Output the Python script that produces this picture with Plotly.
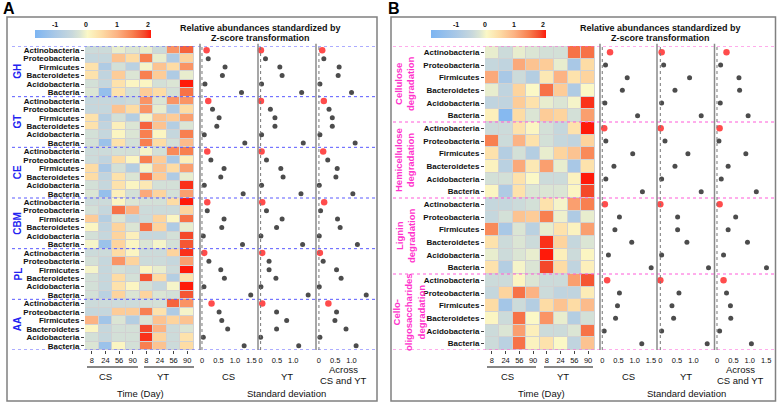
import plotly.graph_objects as go

W, H = 778, 403
def fx(p): return p / W
def fy(p): return 1 - p / H

FONT = "Liberation Sans, Arial, sans-serif"

# ---------------- data ----------------
taxa = ["Actinobacteria", "Proteobacteria", "Firmicutes", "Bacteroidetes", "Acidobacteria", "Bacteria"]
time_labels = ["8", "24", "56", "90", "8", "24", "56", "90"]
site_labels = ["CS", "YT"]
groups_A = ["GH", "GT", "CE", "CBM", "PL", "AA"]
groups_B = ["Cellulose<br>degradation", "Hemicellulose<br>degradation", "Lignin<br>degradation",
            "Cello-<br>oligosaccharides<br>degradation"]

# z-scores (rows = taxa, cols = CS 8,24,56,90, YT 8,24,56,90)
heat_GH = [[-0.4, -0.4, -0.1, -0.2, -0.1, -0.4, 1.3, 1.7],
           [-0.5, -0.5, 0.8, 0.5, 1.5, -0.1, -0.9, 0.6],
           [0.4, -0.9, -0.3, -0.7, 0.0, 0.8, 0.5, 1.3],
           [0.4, -0.6, 0.7, -0.2, 1.5, 0.7, -0.9, -0.1],
           [-0.3, -0.5, 0.4, 0.1, 0.1, -0.3, -0.2, 2.2],
           [-0.2, -1.3, 0.4, -0.3, 0.7, 0.5, -0.3, 1.6]]
heat_GT = [[-0.5, -0.5, -0.5, -0.4, 1.3, -0.2, 1.3, 1.3],
           [-0.5, -0.5, 0.8, 0.5, 1.3, -0.1, -0.9, 0.5],
           [0.4, -0.8, -0.3, -0.8, 0.0, 0.8, 0.7, 1.2],
           [0.4, -0.6, 0.2, -0.2, 1.7, 0.8, -0.8, -0.2],
           [-0.3, -0.5, 0.1, -0.2, 1.5, 0.1, -0.5, 1.5],
           [-0.3, -1.2, 0.4, -0.3, 1.5, 0.5, -0.3, 0.9]]
heat_CE = [[-0.4, -0.4, -0.3, -0.3, 0.0, -0.3, 1.4, 1.5],
           [-0.4, -0.6, 0.5, 0.1, 1.5, 0.7, -1.0, 0.2],
           [0.5, -1.0, -0.3, -0.8, 0.0, 0.8, 0.5, 1.2],
           [0.5, -0.6, 0.4, -0.2, 1.6, 0.7, -0.9, -0.1],
           [-0.3, -0.5, 0.4, 0.1, 0.3, -0.3, -0.3, 2.0],
           [-0.2, -1.3, 0.2, -0.3, 1.1, 0.6, -0.3, 1.2]]
heat_CBM = [[-0.4, -0.4, 0.1, -0.2, -0.3, -0.3, 0.5, 2.4],
            [-0.3, -0.5, 1.6, 1.0, -0.4, -0.4, -0.4, 0.6],
            [0.7, -0.8, -0.2, -0.6, -0.4, 0.6, 0.1, 1.6],
            [0.1, -0.6, 0.6, -0.2, 1.6, 0.6, -0.9, -0.1],
            [-0.3, -0.5, 0.6, 0.2, -0.5, -0.5, -0.3, 1.9],
            [0.0, -1.2, 0.6, 0.1, -0.2, 0.0, -0.3, 1.8]]
heat_PL = [[-0.4, -0.4, 0.5, 0.1, -0.4, -0.4, 0.6, 2.0],
           [-0.3, -0.5, 1.3, 0.6, -0.4, -0.4, -0.5, 1.2],
           [0.0, -0.5, -0.3, -0.4, 0.1, -0.1, -0.4, 2.4],
           [-0.3, -0.5, 0.5, -0.3, 1.8, 0.5, -0.8, 0.4],
           [-0.3, -0.5, 0.4, 0.1, -0.3, -0.5, 0.0, 2.1],
           [-0.3, -0.7, 0.6, -0.2, 0.6, -0.2, -0.3, 1.8]]
heat_AA = [[-0.4, -0.4, -0.4, -0.4, -0.3, -0.3, 1.7, 1.3],
           [-0.5, -0.5, 0.7, 0.7, 1.5, 0.4, -0.9, 0.0],
           [1.0, -1.1, -0.2, -0.8, -0.2, 0.8, 0.6, 0.8],
           [0.1, -0.5, -0.3, -0.3, 1.9, 1.0, -0.4, -0.2],
           [-0.3, -0.5, -0.3, -0.3, 2.0, 0.6, -0.4, 0.4],
           [-0.2, -1.2, 0.1, -0.3, 1.5, 0.8, -0.4, 0.5]]

heat_cellulose = [[-0.1, -0.4, -0.1, -0.2, -0.3, -0.3, 1.6, 1.6],
                  [-0.5, -0.6, 1.1, 0.8, 0.7, -0.1, -1.0, 0.5],
                  [1.1, -1.0, -0.4, -0.8, 0.3, 1.0, 0.4, 0.6],
                  [-0.1, -0.6, 0.6, 0.05, 1.6, 0.7, -0.9, 0.05],
                  [-0.6, -0.6, 0.7, 0.4, -0.1, -0.2, 0.0, 2.0],
                  [0.2, -1.7, 0.5, -0.2, 0.7, 0.6, -0.3, 1.2]]
heat_hemicellulose = [[-0.4, -0.4, 0.4, 0.1, -0.3, -0.5, 0.4, 2.1],
                      [1.5, -0.4, 1.0, 0.4, -0.3, -0.5, -0.6, 0.6],
                      [0.4, -0.8, -0.3, -0.8, -0.1, 0.6, 0.8, 1.4],
                      [0.15, -0.7, 1.1, 0.3, 1.2, -0.1, -1.0, 0.4],
                      [-0.3, -0.3, 0.4, 0.05, -0.4, -0.4, 0.15, 2.2],
                      [0.1, -0.9, 0.4, -0.2, -0.2, -0.2, 0.1, 1.9]]
heat_lignin = [[-0.5, -0.5, -0.4, -0.3, 0.4, 0.0, 1.2, 1.5],
               [-0.5, -0.3, 0.8, 0.7, 1.5, -0.05, -0.9, -0.1],
               [1.4, -1.0, -0.2, -0.7, -0.1, 0.4, 0.15, 1.2],
               [0.4, -0.4, -0.2, -0.4, 2.0, 0.6, -0.5, -0.2],
               [-0.1, -0.4, -0.2, -0.1, 2.5, 0.2, -0.4, 0.1],
               [0.4, -0.8, 0.0, -0.2, 1.9, 0.5, -0.6, 0.2]]
heat_cello = [[-0.4, -0.4, 0.1, -0.2, -0.4, -0.4, 1.2, 1.8],
              [-0.5, 0.6, 1.6, 1.0, -0.4, -0.6, -0.6, 0.25],
              [0.5, -1.1, -0.4, -0.8, 0.5, 0.8, 0.5, 0.9],
              [0.1, -0.4, 1.6, 0.05, 1.3, -0.1, -0.8, -0.3],
              [-0.4, -0.2, 1.2, 0.2, -0.4, -0.4, -0.2, 1.6],
              [-0.4, -0.7, 1.6, 0.15, 0.4, 0.05, -0.6, 0.8]]

# standard deviations (rows in the same order as the heatmaps)
sd_A_CS = [0.14, 0.19, 0.70, 0.62, 0.09, 1.20,
           0.19, 0.32, 0.52, 0.45, 0.07, 1.30,
           0.16, 0.27, 0.67, 0.57, 0.07, 1.25,
           0.16, 0.16, 0.67, 0.60, 0.04, 1.23,
           0.07, 0.21, 0.57, 0.68, 0.06, 1.48,
           0.29, 0.52, 0.60, 0.78, 0.04, 1.28]
sd_A_YT = [0.01, 0.15, 0.59, 0.66, 0.03, 1.26,
           0.01, 0.30, 0.44, 0.44, 0.03, 1.31,
           0.03, 0.18, 0.62, 0.69, 0.03, 1.24,
           0.05, 0.18, 0.66, 0.49, 0.01, 1.29,
           0.05, 0.26, 0.26, 0.47, 0.01, 1.46,
           0.05, 0.49, 0.80, 0.49, 0.00, 1.17]
sd_A_all = [0.10, 0.15, 0.62, 0.59, 0.03, 1.00,
            0.15, 0.31, 0.41, 0.41, 0.03, 1.11,
            0.13, 0.27, 0.56, 0.52, 0.01, 1.04,
            0.16, 0.05, 0.57, 0.65, 0.01, 1.18,
            0.03, 0.13, 0.54, 0.68, 0.01, 1.45,
            0.29, 0.54, 0.49, 0.83, 0.03, 1.14]
sd_B_CS = [0.24, 0.10, 0.77, 0.62, 0.08, 1.09,
           0.06, 0.11, 0.94, 0.36, 0.11, 1.24,
           0.08, 0.53, 0.39, 0.91, 0.19, 1.51,
           0.15, 0.53, 0.47, 0.41, 0.06, 1.22]
sd_B_YT = [0.04, 0.10, 0.88, 0.44, 0.04, 1.23,
           0.01, 0.14, 0.83, 0.44, 0.04, 1.23,
           0.00, 0.52, 0.52, 0.80, 0.04, 1.45,
           0.00, 0.56, 0.35, 0.40, 0.04, 1.41]
sd_B_all = [0.29, 0.11, 0.67, 0.69, 0.10, 0.95,
            0.08, 0.06, 0.88, 0.34, 0.13, 1.20,
            0.08, 0.57, 0.34, 0.93, 0.20, 1.51,
            0.20, 0.29, 0.41, 0.42, 0.08, 1.05]

sd_ticks_A = [[0, 0.5, 1.0, 1.5], [0, 0.5, 1.0], [0, 0.5, 1.0]]
sd_ticks_B = [[0, 0.5, 1.0, 1.5], [0, 0.5, 1.0], [0, 0.5, 1.0, 1.5]]
cbar_ticks = [-1, 0, 1, 2]
zrange_A = (-1.65, 2.1)
zrange_B = (-1.87, 2.1)

# ---------------- styling ----------------
color_stops = [(None, "#7db5f2"), (-1.0, "#a9c8e6"), (-0.45, "#c8d8dc"), (-0.2, "#dbe5d4"),
               (0.05, "#fbf8c6"), (0.5, "#fddca5"), (1.0, "#fcb384"), (1.5, "#f88050"),
               (1.9, "#f4482a"), (2.1, "#ff1a0a")]

def make_scale(zmin, zmax):
    out = []
    for v, c in color_stops:
        v = zmin if v is None else v
        out.append([(v - zmin) / (zmax - zmin), c])
    return out

heat_A = heat_GH + heat_GT + heat_CE + heat_CBM + heat_PL + heat_AA
heat_B = heat_cellulose + heat_hemicellulose + heat_lignin + heat_cello
nA, nB = len(heat_A), len(heat_B)

fig = go.Figure()
fig.add_trace(go.Heatmap(z=heat_A, x=list(range(8)), y=list(range(nA)), coloraxis="coloraxis",
                         xgap=1, ygap=1, xaxis="x", yaxis="y"))
fig.add_trace(go.Heatmap(z=heat_B, x=list(range(8)), y=list(range(nB)), coloraxis="coloraxis2",
                         xgap=1, ygap=1, xaxis="x5", yaxis="y2"))

def dots(vals, xa, ya):
    cols = ["#ff0000" if taxa[i % 6] == "Actinobacteria" else "#000000" for i in range(len(vals))]
    sizes = [6.5 if taxa[i % 6] == "Actinobacteria" else 5 for i in range(len(vals))]
    return go.Scatter(x=vals, y=list(range(len(vals))), mode="markers", xaxis=xa, yaxis=ya,
                      marker=dict(color=cols, size=sizes, line=dict(width=0)), cliponaxis=False,
                      showlegend=False)

for vals, xa in [(sd_A_CS, "x2"), (sd_A_YT, "x3"), (sd_A_all, "x4")]:
    fig.add_trace(dots(vals, xa, "y"))
for vals, xa in [(sd_B_CS, "x6"), (sd_B_YT, "x7"), (sd_B_all, "x8")]:
    fig.add_trace(dots(vals, xa, "y2"))

def heat_x(dom, anchor):
    return dict(domain=[fx(dom[0]), fx(dom[1])], anchor=anchor, range=[-0.5, 7.5],
                tickvals=list(range(8)), ticktext=time_labels, ticks="outside", ticklen=3,
                tickcolor="#444", tickfont=dict(size=7.5, color="#111"), showgrid=False,
                zeroline=False, showline=False)

def heat_y(n, anchor):
    return dict(domain=[fy(350), fy(46)], anchor=anchor, range=[n - 0.5, -0.5],
                tickvals=list(range(n)), ticktext=taxa * (n // 6), ticks="outside", ticklen=3,
                tickcolor="#444", tickfont=dict(size=8, color="#111", weight="bold"),
                showgrid=False, zeroline=False, showline=False)

def dot_x(dom, rng, ticks, anchor):
    return dict(domain=[fx(dom[0]), fx(dom[1])], anchor=anchor, range=rng, tickvals=ticks,
                ticktext=["0" if t == 0 else f"{t:.1f}" for t in ticks], ticks="outside",
                ticklen=3, tickcolor="rgba(0,0,0,0)", tickfont=dict(size=7.5, color="#111"),
                showgrid=False, zeroline=False, showline=False)

layout = dict(
    width=W, height=H, margin=dict(l=0, r=0, t=0, b=0),
    paper_bgcolor="white", plot_bgcolor="white", showlegend=False,
    font=dict(family=FONT, color="#111"),
    xaxis=heat_x((85, 194), "y"),
    yaxis=heat_y(nA, "x"),
    xaxis2=dot_x((200, 257), [-0.06, 1.67], sd_ticks_A[0], "y"),
    xaxis3=dot_x((258, 315), [-0.08, 1.67], sd_ticks_A[1], "y"),
    xaxis4=dot_x((316, 376), [-0.09, 1.75], sd_ticks_A[2], "y"),
    xaxis5=heat_x((485, 595), "y2"),
    yaxis2=heat_y(nB, "x5"),
    xaxis6=dot_x((600, 657), [-0.07, 1.69], sd_ticks_B[0], "y2"),
    xaxis7=dot_x((657, 714.5), [-0.10, 1.63], sd_ticks_B[1], "y2"),
    xaxis8=dot_x((714.5, 775), [-0.076, 1.77], sd_ticks_B[2], "y2"),
)

cbars = [("coloraxis", zrange_A, (35, 151)), ("coloraxis2", zrange_B, (431, 546))]
for name, (zmin, zmax), (b0, b1) in cbars:
    layout[name] = dict(
        cmin=zmin, cmax=zmax, colorscale=make_scale(zmin, zmax),
        colorbar=dict(orientation="h", lenmode="pixels", len=b1 - b0, thickness=8,
                      thicknessmode="pixels", x=fx((b0 + b1) / 2), xanchor="center",
                      y=fy(30), yanchor="top", xpad=0, ypad=0, outlinewidth=0,
                      showticklabels=False, ticks=""))
fig.update_layout(**layout)

shapes = []
ann = []

def A(text, x, y, size=9.5, color="#111", bold=False, angle=0, xref="paper", yref="paper"):
    ann.append(dict(text=text, x=x, y=y, xref=xref, yref=yref, showarrow=False,
                    xanchor="center", yanchor="middle", textangle=angle,
                    font=dict(size=size, color=color, family=FONT,
                              weight="bold" if bold else "normal")))

# panel boxes
for x0, x1 in [(7, 377), (391, 775.5)]:
    shapes.append(dict(type="rect", xref="paper", yref="paper", x0=fx(x0), x1=fx(x1),
                       y0=fy(401), y1=fy(17), line=dict(color="#808080", width=1.5)))

# cell border background under heatmaps
for xa, ya in [("x", "y"), ("x5", "y2")]:
    shapes.append(dict(type="rect", xref=f"{xa} domain", yref=f"{ya} domain", x0=0, x1=1,
                       y0=0, y1=1, layer="below", fillcolor="#d2d2d2", line=dict(width=0)))

# group separators
for g in range(len(groups_A) + 1):
    shapes.append(dict(type="line", xref="paper", yref="y", x0=fx(12), x1=fx(376.5),
                       y0=6 * g - 0.5, y1=6 * g - 0.5,
                       line=dict(color="#5a5aff", width=1, dash="dot")))
for g in range(len(groups_B) + 1):
    shapes.append(dict(type="line", xref="paper", yref="y2", x0=fx(393), x1=fx(775),
                       y0=6 * g - 0.5, y1=6 * g - 0.5,
                       line=dict(color="#ff5ad8", width=1, dash="dot")))

# dot panel frames and zero lines
for xa, ya in [("x2", "y"), ("x3", "y"), ("x4", "y"), ("x6", "y2"), ("x7", "y2"), ("x8", "y2")]:
    shapes.append(dict(type="line", xref=f"{xa} domain", yref=f"{ya} domain", x0=0, x1=0,
                       y0=0, y1=1.007, line=dict(color="#8a8a8a", width=1.5)))
    shapes.append(dict(type="line", xref=xa, yref=f"{ya} domain", x0=0, x1=0, y0=0, y1=1,
                       line=dict(color="#777", width=1, dash="dot")))

# site underlines
for x0, x1 in [(87, 138), (144, 194), (487, 536), (544, 593)]:
    shapes.append(dict(type="line", xref="paper", yref="paper", x0=fx(x0), x1=fx(x1),
                       y0=fy(367), y1=fy(367), line=dict(color="#111", width=1.2)))

# panel letters
A("A", fx(8.5), fy(9), size=16, color="#000", bold=True)
A("B", fx(394), fy(9), size=16, color="#000", bold=True)

# titles
for cx in (260, 660):
    A("Relative abundances standardized by", fx(cx), fy(28), size=9, bold=True)
    A("Z-score transformation", fx(cx), fy(37.5), size=9, bold=True)

# colorbar tick labels
for name, (zmin, zmax), (b0, b1) in cbars:
    for t in cbar_ticks:
        A(str(t), fx(b0 + (t - zmin) / (zmax - zmin) * (b1 - b0)), fy(24), size=7, bold=True)

# group labels
for g, lab in enumerate(groups_A):
    A(lab, fx(17.5), 6 * g + 2.5, size=10, color="#2323f0", bold=True, angle=-90, yref="y")
for g, (lab, cx) in enumerate(zip(groups_B, [405, 404, 405, 409])):
    A(lab, fx(cx), 6 * g + 2.5, size=9.5, color="#ff33cc", bold=True, angle=-90, yref="y2")

# bottom labels
for (cs_x, yt_x, time_x, sdx, across_x, dcs, dyt) in [(105, 163, 140, 286, 343, 228, 286.5),
                                                     (507, 563, 541, 686, 740, 628, 686)]:
    A(site_labels[0], fx(cs_x), fy(376))
    A(site_labels[1], fx(yt_x), fy(376))
    A("Time (Day)", fx(time_x), fy(393.5))
    A(site_labels[0], fx(dcs), fy(376))
    A(site_labels[1], fx(dyt), fy(376))
    A("Across", fx(across_x), fy(369))
    A("CS and YT", fx(across_x), fy(380.5))
    A("Standard deviation", fx(sdx), fy(393.5))

fig.update_layout(shapes=shapes, annotations=ann)
fig.write_html("out.html", config={"displayModeBar": False},
               post_script="document.body.style.margin='0';document.body.style.overflow='hidden';")
